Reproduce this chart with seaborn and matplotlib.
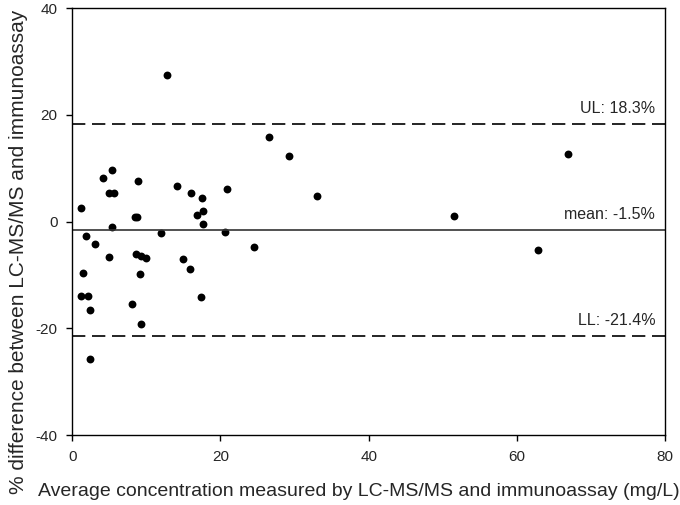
import matplotlib
matplotlib.use("Agg")
import matplotlib.pyplot as plt
import seaborn as sns
import pandas as pd

# average concentration (mg/L) and % difference
avg_conc = [12.8, 26.5, 29.2, 5.3, 4.1, 8.9, 14.2, 20.9, 5.0, 5.6,
            16.0, 17.5, 17.65, 16.8, 17.6, 8.5, 8.8, 5.3, 12.0, 20.6,
            24.5, 3.0, 5.0, 8.65, 9.3, 10.0, 15.0, 15.9, 9.2, 17.4,
            8.1, 9.3, 33.0, 51.5, 66.9, 62.9, 1.2, 1.9, 1.5, 1.2,
            2.1, 2.4, 2.4]
pct_diff = [27.5, 15.9, 12.4, 9.7, 8.2, 7.7, 6.6, 6.1, 5.3, 5.4,
            5.3, 4.4, 2.0, 1.2, -0.4, 0.8, 0.9, -1.0, -2.1, -2.0,
            -4.8, -4.1, -6.7, -6.1, -6.4, -6.8, -7.0, -8.9, -9.8, -14.1,
            -15.5, -19.1, 4.8, 1.1, 12.6, -5.4, 2.55, -2.7, -9.6, -14.0,
            -14.0, -16.6, -25.7]

mean_diff = -1.5
upper_limit = 18.3
lower_limit = -21.4

df = pd.DataFrame({"avg": avg_conc, "diff": pct_diff})

sns.set_theme(style="ticks")
plt.rcParams["font.family"] = ["Liberation Sans", "DejaVu Sans"]
plt.rcParams["axes.unicode_minus"] = False

fig = plt.figure(figsize=(6.8, 5.05), dpi=100)
ax = fig.add_axes([0.1063, 0.1386, 0.8716, 0.845])

sns.scatterplot(data=df, x="avg", y="diff", ax=ax, color="black",
                s=32, edgecolor="black", linewidth=0)

ax.axhline(mean_diff, color="#333333", lw=1.2)
ax.axhline(upper_limit, color="black", lw=1.2, ls=(0, (8, 4)))
ax.axhline(lower_limit, color="black", lw=1.2, ls=(0, (8, 4)))

ax.text(78.7, upper_limit + 1.5, f"UL: {upper_limit}%", ha="right", va="bottom", fontsize=11.5)
ax.text(78.7, mean_diff + 1.5, f"mean: {mean_diff}%", ha="right", va="bottom", fontsize=11.5)
ax.text(78.7, lower_limit + 1.5, f"LL: {lower_limit}%", ha="right", va="bottom", fontsize=11.5)

ax.set_xlim(0, 80)
ax.set_ylim(-40, 40)
ax.set_xticks([0, 20, 40, 60, 80])
ax.set_yticks([-40, -20, 0, 20, 40])
ax.tick_params(direction="out", length=4.5, width=1, pad=6, labelsize=11, color="black")
for sp in ax.spines.values():
    sp.set_visible(True)
    sp.set_color("black")
    sp.set_linewidth(1)

ax.set_xlabel("Average concentration measured by LC-MS/MS and immunoassay (mg/L)", fontsize=14)
ax.set_ylabel("% difference between LC-MS/MS and immunoassay", fontsize=15)
ax.xaxis.set_label_coords(0.484, -0.113)
ax.yaxis.set_label_coords(-0.075, 0.43)

fig.savefig("out.png", dpi=100)
